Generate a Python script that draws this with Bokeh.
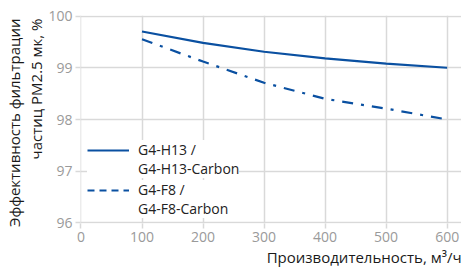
from bokeh.plotting import figure
from bokeh.models import Range1d, Title, Legend, LegendItem, FixedTicker
from bokeh.embed import file_html
from bokeh.resources import INLINE

flow = [100, 200, 300, 400, 500, 600]
h13 = [99.70, 99.48, 99.31, 99.18, 99.08, 99.00]
f8 = [99.55, 99.12, 98.71, 98.40, 98.21, 98.00]
x_ticks = [0, 100, 200, 300, 400, 500, 600]
y_ticks = [96, 97, 98, 99, 100]
legend_lines_1 = ["G4-H13 /", "G4-H13-Carbon"]
legend_lines_2 = ["G4-F8 /", "G4-F8-Carbon"]

BLUE = "#0a50a1"
GRID = "#d9d9d9"
TICK = "#9a9a9a"
FONT = "Open Sans"
nan = float("nan")

p = figure(width=461, height=267, output_backend="svg", toolbar_location=None,
           x_range=Range1d(-0.8, 623.5), y_range=Range1d(95.99, 100.01),
           min_border_left=80, min_border_right=0, min_border_top=15, min_border_bottom=44)
p.outline_line_color = None
p.background_fill_color = "white"

for ax in (p.xaxis[0], p.yaxis[0]):
    ax.axis_line_color = None
    ax.major_tick_line_color = GRID
    ax.major_tick_line_width = 1.5
    ax.major_tick_in = 0
    ax.major_tick_out = 5
    ax.minor_tick_line_color = None
    ax.major_label_text_color = TICK
    ax.major_label_text_font = FONT
    ax.major_label_text_font_size = "14px"
    ax.major_label_standoff = 3
p.xaxis.ticker = FixedTicker(ticks=x_ticks)
p.yaxis.ticker = FixedTicker(ticks=y_ticks)
p.xgrid.ticker = FixedTicker(ticks=x_ticks)
p.ygrid.ticker = FixedTicker(ticks=y_ticks)
p.grid.grid_line_color = GRID
p.grid.grid_line_width = 1.5

p.line(flow, h13, line_color=BLUE, line_width=2.2)
p.line(flow, f8, line_color=BLUE, line_width=2.2, line_dash="11 8 3 8")

r1 = p.line([nan], [nan], line_color=BLUE, line_width=2.2)
r2 = p.line([nan], [nan], line_color=BLUE, line_width=2.2, line_dash="7 5")
blank = p.line([nan], [nan], line_alpha=0)

def make_legend(lines, rend, loc):
    return Legend(items=[LegendItem(label=lines[0], renderers=[rend]),
                         LegendItem(label=lines[1], renderers=[blank])],
                  location=loc, padding=5, margin=0, spacing=-3,
                  glyph_width=42, glyph_height=10, label_height=10,
                  label_standoff=9, border_line_color=None,
                  background_fill_color="white", background_fill_alpha=1.0,
                  label_text_font=FONT, label_text_font_size="14px",
                  label_text_color="#222222")

p.add_layout(make_legend(legend_lines_1, r1, (7, 45)), "center")
p.add_layout(make_legend(legend_lines_2, r2, (7, 5)), "center")

xt = Title(text="Производительность, м³/ч", align="right", text_font=FONT,
           text_font_size="15px", text_font_style="normal", text_color="#1a1a1a",
           standoff=0, offset=0)
p.add_layout(xt, "below")

yt2 = Title(text="частиц PM2.5 мк, %", align="right", text_font=FONT,
            text_font_size="15px", text_font_style="normal", text_color="#1a1a1a",
            standoff=0, offset=3)
yt1 = Title(text="Эффективность фильтрации", align="right", text_font=FONT,
            text_font_size="15px", text_font_style="normal", text_color="#1a1a1a",
            standoff=0, offset=3)
p.add_layout(yt2, "left")
p.add_layout(yt1, "left")

open("out.html", "w").write(file_html(p, INLINE))
